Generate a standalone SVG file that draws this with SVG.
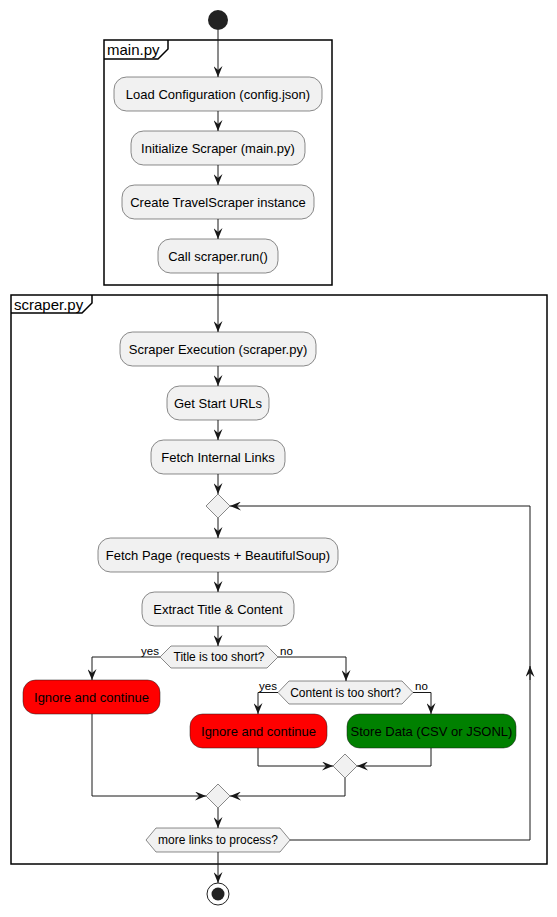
<svg xmlns="http://www.w3.org/2000/svg" width="557" height="917" viewBox="0 0 557 917">
<style>
.frame{fill:none;stroke:#000;stroke-width:1.5}
.ftxt{font-family:"Liberation Sans",Arial,sans-serif;font-size:15px;fill:#000}
.box{fill:#F1F1F1;stroke:#181818;stroke-width:0.5}
.red{fill:#FF0000;stroke:#181818;stroke-width:0.5}
.green{fill:#008000;stroke:#181818;stroke-width:0.5}
.t{font-family:"Liberation Sans",Arial,sans-serif;font-size:13px;fill:#000;text-anchor:middle}
.hx{font-family:"Liberation Sans",Arial,sans-serif;font-size:12px;fill:#000;text-anchor:middle}
.lbl{font-family:"Liberation Sans",Arial,sans-serif;font-size:11.5px;fill:#000}
.c{fill:none;stroke:#181818;stroke-width:1}
</style>
<defs>
<marker id="ah" viewBox="0 0 11 9" refX="11" refY="4.5" markerWidth="11" markerHeight="9" markerUnits="userSpaceOnUse" orient="auto">
<path d="M0,0 L11,4.5 L0,9 L4,4.5 Z" fill="#181818"/>
</marker>
</defs>
<g id="frames">
<g id="frame-main">
<rect class="frame" x="104" y="40" width="228" height="245"/>
<path class="frame" d="M104,59 L158,59 L168,49 L168,40"/>
<text class="ftxt" x="107" y="55">main.py</text>
</g>
<g id="frame-scraper">
<rect class="frame" x="11" y="295" width="536" height="569"/>
<path class="frame" d="M11,313 L82,313 L92,303 L92,295"/>
<text class="ftxt" x="14" y="310">scraper.py</text>
</g>
</g>
<g id="connectors">
<path class="c" marker-end="url(#ah)" d="M218,30 V77"/>
<path class="c" marker-end="url(#ah)" d="M218,111 V131"/>
<path class="c" marker-end="url(#ah)" d="M218,165 V185"/>
<path class="c" marker-end="url(#ah)" d="M218,219 V239"/>
<path class="c" marker-end="url(#ah)" d="M218,273 V332"/>
<path class="c" marker-end="url(#ah)" d="M218,366 V386"/>
<path class="c" marker-end="url(#ah)" d="M218,420 V440"/>
<path class="c" marker-end="url(#ah)" d="M218,474 V494"/>
<path class="c" marker-end="url(#ah)" d="M218,518 V538"/>
<path class="c" marker-end="url(#ah)" d="M218,572 V592"/>
<path class="c" marker-end="url(#ah)" d="M218,626 V646"/>
<path class="c" marker-end="url(#ah)" d="M160,657 H92 V680"/>
<path class="c" marker-end="url(#ah)" d="M278,657 H346 V681"/>
<path class="c" marker-end="url(#ah)" d="M278,692.5 H258 V714"/>
<path class="c" marker-end="url(#ah)" d="M413,692.5 H431 V714"/>
<path class="c" marker-end="url(#ah)" d="M258,748 V766 H333"/>
<path class="c" marker-end="url(#ah)" d="M431,748 V766 H357"/>
<path class="c" marker-end="url(#ah)" d="M345,778 V796 H230"/>
<path class="c" marker-end="url(#ah)" d="M92,714 V796 H206"/>
<path class="c" marker-end="url(#ah)" d="M218,808 V828"/>
<path class="c" marker-end="url(#ah)" d="M218,852 V883"/>
<path class="c" marker-end="url(#ah)" d="M290,840 H530 V506 H230"/>
<path class="c" marker-end="url(#ah)" d="M530,680 V666"/>
<text class="lbl" x="159" y="655" text-anchor="end">yes</text>
<text class="lbl" x="280" y="655">no</text>
<text class="lbl" x="277" y="690" text-anchor="end">yes</text>
<text class="lbl" x="415" y="690">no</text>
</g>
<g id="start"><circle cx="218" cy="20" r="10" fill="#222"/></g>
<g id="load"><rect class="box" x="114" y="77" width="208" height="34" rx="12.5"/><text class="t" x="218" y="98.5">Load Configuration (config.json)</text></g>
<g id="init"><rect class="box" x="131" y="131" width="174" height="34" rx="12.5"/><text class="t" x="218" y="152.5">Initialize Scraper (main.py)</text></g>
<g id="create"><rect class="box" x="122" y="185" width="192" height="34" rx="12.5"/><text class="t" x="218" y="206.5">Create TravelScraper instance</text></g>
<g id="call"><rect class="box" x="158" y="239" width="120" height="34" rx="12.5"/><text class="t" x="218" y="260.5">Call scraper.run()</text></g>
<g id="exec"><rect class="box" x="120" y="332" width="196" height="34" rx="12.5"/><text class="t" x="218" y="353.5">Scraper Execution (scraper.py)</text></g>
<g id="starturls"><rect class="box" x="167" y="386" width="102" height="34" rx="12.5"/><text class="t" x="218" y="407.5">Get Start URLs</text></g>
<g id="internal"><rect class="box" x="151" y="440" width="134" height="34" rx="12.5"/><text class="t" x="218" y="461.5">Fetch Internal Links</text></g>
<g id="merge1"><path class="box" d="M218,494 L230,506 L218,518 L206,506 Z"/></g>
<g id="fetchpage"><rect class="box" x="98" y="538" width="240" height="34" rx="12.5"/><text class="t" x="218" y="559.5">Fetch Page (requests + BeautifulSoup)</text></g>
<g id="extract"><rect class="box" x="142" y="592" width="152" height="34" rx="12.5"/><text class="t" x="218" y="613.5">Extract Title &amp; Content</text></g>
<g id="titleq"><path class="box" d="M160,657 L171,646 L267,646 L278,657 L267,668 L171,668 Z"/><text class="hx" x="219" y="661">Title is too short?</text></g>
<g id="ignore1"><rect class="red" x="23" y="680" width="137" height="34" rx="12.5"/><text class="t" x="91.5" y="701.5">Ignore and continue</text></g>
<g id="contentq"><path class="box" d="M278,692.5 L289,681 L402,681 L413,692.5 L402,704 L289,704 Z"/><text class="hx" x="345.5" y="697">Content is too short?</text></g>
<g id="ignore2"><rect class="red" x="190" y="714" width="137" height="34" rx="12.5"/><text class="t" x="258.5" y="735.5">Ignore and continue</text></g>
<g id="store"><rect class="green" x="347" y="714" width="169" height="34" rx="12.5"/><text class="t" x="431.5" y="735.5">Store Data (CSV or JSONL)</text></g>
<g id="merge2"><path class="box" d="M345,754 L357,766 L345,778 L333,766 Z"/></g>
<g id="merge3"><path class="box" d="M218,784 L230,796 L218,808 L206,796 Z"/></g>
<g id="moreq"><path class="box" d="M146,840 L156,828 L280,828 L290,840 L280,852 L156,852 Z"/><text class="hx" x="218" y="844">more links to process?</text></g>
<g id="end"><circle cx="218" cy="894" r="11" fill="none" stroke="#222" stroke-width="1"/><circle cx="218" cy="894" r="6.5" fill="#222"/></g>
</svg>
